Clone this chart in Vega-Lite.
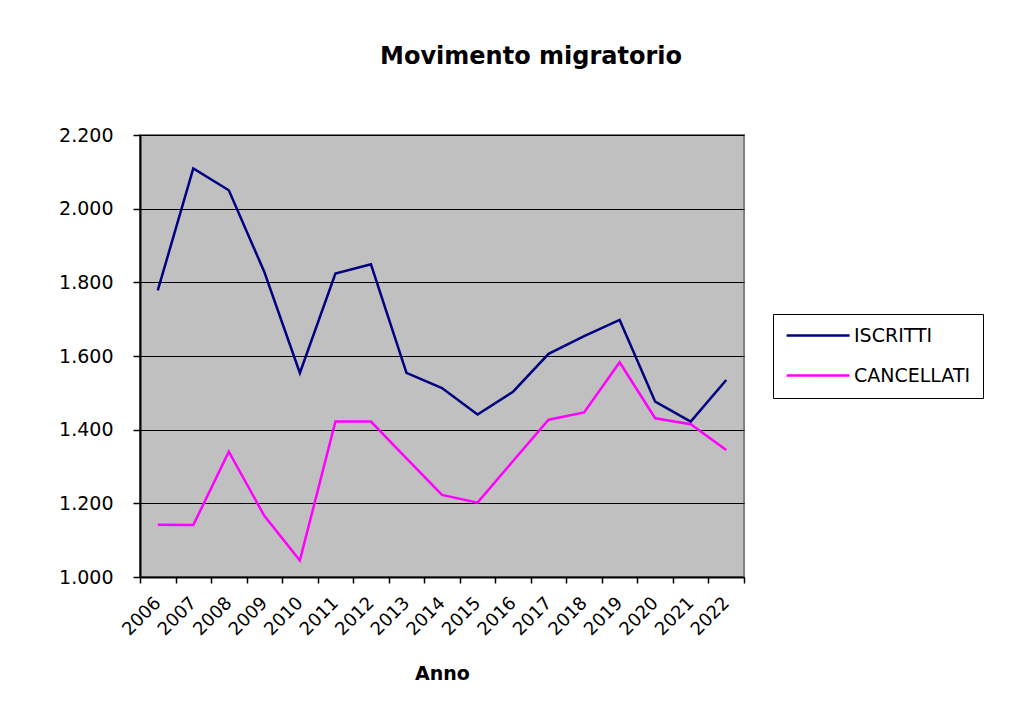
{
  "$schema": "https://vega.github.io/schema/vega-lite/v6.json",
  "width": 604,
  "height": 442,
  "autosize": {"type": "none"},
  "padding": {"left": 140, "top": 135, "right": 279, "bottom": 143},
  "background": "white",
  "title": {"text": "Movimento migratorio", "font": "DejaVu Sans", "fontSize": 24, "fontWeight": "bold", "color": "black", "anchor": "middle", "dx": 89, "offset": 57},
  "data": {"values": [
    {"Anno": "2006", "Serie": "ISCRITTI", "Valore": 1778},
    {"Anno": "2007", "Serie": "ISCRITTI", "Valore": 2109},
    {"Anno": "2008", "Serie": "ISCRITTI", "Valore": 2050},
    {"Anno": "2009", "Serie": "ISCRITTI", "Valore": 1828},
    {"Anno": "2010", "Serie": "ISCRITTI", "Valore": 1554},
    {"Anno": "2011", "Serie": "ISCRITTI", "Valore": 1824},
    {"Anno": "2012", "Serie": "ISCRITTI", "Valore": 1849},
    {"Anno": "2013", "Serie": "ISCRITTI", "Valore": 1554},
    {"Anno": "2014", "Serie": "ISCRITTI", "Valore": 1513},
    {"Anno": "2015", "Serie": "ISCRITTI", "Valore": 1441},
    {"Anno": "2016", "Serie": "ISCRITTI", "Valore": 1503},
    {"Anno": "2017", "Serie": "ISCRITTI", "Valore": 1606},
    {"Anno": "2018", "Serie": "ISCRITTI", "Valore": 1654},
    {"Anno": "2019", "Serie": "ISCRITTI", "Valore": 1698},
    {"Anno": "2020", "Serie": "ISCRITTI", "Valore": 1476},
    {"Anno": "2021", "Serie": "ISCRITTI", "Valore": 1422},
    {"Anno": "2022", "Serie": "ISCRITTI", "Valore": 1535},
    {"Anno": "2006", "Serie": "CANCELLATI", "Valore": 1142},
    {"Anno": "2007", "Serie": "CANCELLATI", "Valore": 1141},
    {"Anno": "2008", "Serie": "CANCELLATI", "Valore": 1340},
    {"Anno": "2009", "Serie": "CANCELLATI", "Valore": 1166},
    {"Anno": "2010", "Serie": "CANCELLATI", "Valore": 1045},
    {"Anno": "2011", "Serie": "CANCELLATI", "Valore": 1422},
    {"Anno": "2012", "Serie": "CANCELLATI", "Valore": 1422},
    {"Anno": "2013", "Serie": "CANCELLATI", "Valore": 1322},
    {"Anno": "2014", "Serie": "CANCELLATI", "Valore": 1223},
    {"Anno": "2015", "Serie": "CANCELLATI", "Valore": 1202},
    {"Anno": "2016", "Serie": "CANCELLATI", "Valore": 1315},
    {"Anno": "2017", "Serie": "CANCELLATI", "Valore": 1427},
    {"Anno": "2018", "Serie": "CANCELLATI", "Valore": 1447},
    {"Anno": "2019", "Serie": "CANCELLATI", "Valore": 1583},
    {"Anno": "2020", "Serie": "CANCELLATI", "Valore": 1431},
    {"Anno": "2021", "Serie": "CANCELLATI", "Valore": 1415},
    {"Anno": "2022", "Serie": "CANCELLATI", "Valore": 1345}
  ]},
  "mark": {"type": "line", "strokeWidth": 2.5},
  "encoding": {
    "x": {
      "field": "Anno", "type": "ordinal", "bandPosition": 0.5,
      "scale": {"type": "band", "paddingInner": 0, "paddingOuter": 0},
      "axis": {
        "title": "Anno", "titleFont": "DejaVu Sans", "titleFontSize": 19, "titleFontWeight": "bold", "titleColor": "black", "titlePadding": 26,
        "labelAngle": -45, "labelAlign": "right", "labelBaseline": "middle", "labelFont": "DejaVu Sans", "labelFontSize": 18, "labelColor": "black", "labelPadding": 17,
        "tickBand": "extent", "tickSize": 6, "tickColor": "black", "tickWidth": 1.5,
        "domainColor": "black", "domainWidth": 2, "grid": false
      }
    },
    "y": {
      "field": "Valore", "type": "quantitative",
      "scale": {"domain": [1000, 2200], "nice": false, "zero": false},
      "axis": {
        "title": null, "values": [1000, 1200, 1400, 1600, 1800, 2000, 2200],
        "labelExpr": "replace(format(datum.value, ',d'), ',', '.')",
        "labelFont": "DejaVu Sans", "labelFontSize": 19, "labelColor": "black", "labelPadding": 20,
        "tickSize": 7, "tickColor": "black", "tickWidth": 1.5,
        "domainColor": "black", "domainWidth": 2,
        "grid": true, "gridColor": "black", "gridWidth": 1, "gridOpacity": 1
      }
    },
    "color": {
      "field": "Serie", "type": "nominal",
      "scale": {"domain": ["ISCRITTI", "CANCELLATI"], "range": ["#000080", "#FF00FF"]},
      "legend": {
        "title": null, "orient": "none", "legendX": 633, "legendY": 179,
        "strokeColor": "black", "padding": 12, "fillColor": "white",
        "symbolType": "M-1,0H7", "symbolSize": 248, "symbolStrokeWidth": 2.5,
        "labelFont": "DejaVu Sans", "labelFontSize": 19, "labelColor": "black", "labelOffset": 50,
        "rowPadding": 20
      }
    }
  },
  "config": {"view": {"fill": "#C0C0C0", "stroke": "#808080", "strokeWidth": 2}}
}
